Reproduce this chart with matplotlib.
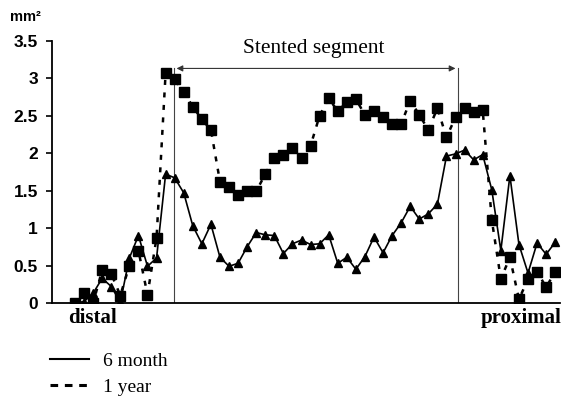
import matplotlib
matplotlib.use("Agg")
import matplotlib.pyplot as plt
from matplotlib.lines import Line2D
import numpy as np

# Lumen area (mm^2) along vessel, distal -> proximal
six_month = [0.00, 0.02, 0.13, 0.33, 0.22, 0.01, 0.60, 0.90, 0.49, 0.60,
             1.72, 1.67, 1.47, 1.03, 0.79, 1.05, 0.61, 0.49, 0.53, 0.75,
             0.94, 0.91, 0.90, 0.66, 0.79, 0.84, 0.78, 0.79, 0.91, 0.53,
             0.61, 0.45, 0.62, 0.88, 0.67, 0.90, 1.07, 1.29, 1.12, 1.19,
             1.32, 1.96, 1.99, 2.04, 1.91, 1.98, 1.51, 0.70, 1.70, 0.78,
             0.40, 0.80, 0.65, 0.81]
one_year = [0.00, 0.14, 0.00, 0.44, 0.39, 0.10, 0.50, 0.70, 0.11, 0.87,
            3.07, 2.99, 2.81, 2.62, 2.45, 2.31, 1.62, 1.55, 1.44, 1.50,
            1.49, 1.72, 1.94, 1.97, 2.07, 1.94, 2.10, 2.50, 2.73, 2.56,
            2.68, 2.72, 2.51, 2.56, 2.48, 2.39, 2.39, 2.70, 2.51, 2.31,
            2.60, 2.21, 2.48, 2.60, 2.55, 2.57, 1.11, 0.32, 0.61, 0.05,
            0.32, 0.42, 0.21, 0.42]
stent_start, stent_end = 10.9, 42.3
yticks = [0, 0.5, 1, 1.5, 2, 2.5, 3, 3.5]
ytick_labels = ["0", "0.5", "1", "1.5", "2", "2.5", "3", "3.5"]

pos = np.arange(len(six_month))

fig = plt.figure(figsize=(5.63, 4.01), dpi=100)
ax = fig.add_axes([52/563, 1-303/401, (560-52)/563, (303-40.7)/401])

ax.plot(pos, six_month, color="black", lw=1.2, marker="^", ms=6, mfc="black", mec="black", label="6 month")
ax.plot(pos, one_year, color="black", lw=1.8, ls=(0, (2, 3)), marker="s", ms=6.5, mfc="black", mec="black", label="1 year")

ax.set_xlim(-2.54, 53.53)
ax.set_ylim(0, 3.5)
ax.set_yticks(yticks)
ax.set_yticklabels(ytick_labels, fontfamily="Liberation Sans", fontweight="bold", fontsize=12.5)
ax.set_xticks([])
ax.spines["top"].set_visible(False)
ax.spines["right"].set_visible(False)
ax.spines["left"].set_linewidth(1.3)
ax.spines["bottom"].set_linewidth(1.3)
ax.tick_params(axis="y", direction="out", length=4, width=1.2, pad=6)

arrow_y = 3.13
for s in (stent_start, stent_end):
    ax.plot([s, s], [0, arrow_y], color="#444444", lw=0.8, zorder=1)
ax.annotate("", xy=(stent_start, arrow_y), xytext=(stent_end, arrow_y),
            arrowprops=dict(arrowstyle="<|-|>", color="#333333", lw=0.8, mutation_scale=9))
ax.text((stent_start + stent_end) / 2 - 0.2, 3.40, "Stented segment", ha="center", va="center",
        fontfamily="Liberation Serif", fontsize=15.5, clip_on=False)

fig.text(10/563, 1-17/401, "mm\u00b2", fontfamily="Liberation Sans", fontweight="bold", fontsize=10.5, va="center")
fig.text(68/563, 1-318/401, "distal", fontfamily="Liberation Serif", fontweight="bold", fontsize=15, va="center")
fig.text(562/563, 1-318/401, "proximal", fontfamily="Liberation Serif", fontweight="bold", fontsize=15, va="center", ha="right")

handles = [Line2D([], [], color="black", lw=1.5),
           Line2D([], [], color="black", lw=2.2, ls=(0, (2.5, 2.2)))]
fig.legend(handles, ["6 month", "1 year"], loc="upper left", bbox_to_anchor=(50/563, 1-352/401),
           frameon=False, prop=dict(family="Liberation Serif", size=14), handlelength=2.0,
           handletextpad=0.75, labelspacing=0.45, borderaxespad=0, borderpad=0)

fig.savefig("out.png", dpi=100)
